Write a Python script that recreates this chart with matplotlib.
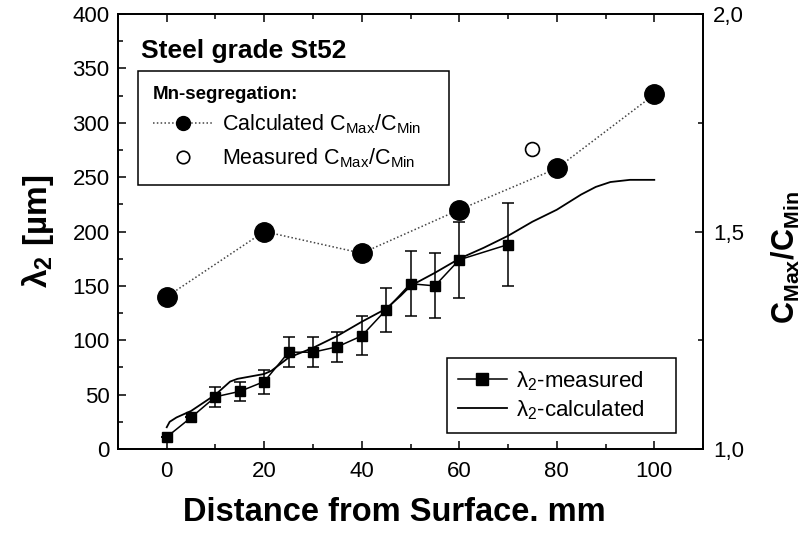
import numpy as np
import matplotlib.pyplot as plt
from matplotlib.lines import Line2D
from matplotlib.ticker import MultipleLocator, FixedLocator

plt.rcParams['font.family'] = ['Liberation Sans', 'DejaVu Sans']
plt.rcParams['mathtext.fontset'] = 'custom'
plt.rcParams['mathtext.rm'] = 'Liberation Sans'
plt.rcParams['mathtext.it'] = 'Liberation Sans:italic'
plt.rcParams['mathtext.bf'] = 'Liberation Sans:bold'

# Measured secondary dendrite arm spacing (um) with error bars
dist_meas = [0, 5, 10, 15, 20, 25, 30, 35, 40, 45, 50, 55, 60, 70]
lam_meas = [11, 29, 48, 53, 62, 89, 89, 94, 104, 128, 152, 150, 174, 188]
lam_err = [0, 0, 9, 9, 11, 14, 14, 14, 18, 20, 30, 30, 35, 38]

# Calculated secondary dendrite arm spacing (um)
dist_calc = [0, 0.6, 2, 5, 10, 13, 14.5, 20, 21.5, 25, 30, 35, 40, 45, 48, 50,
             55, 60, 65, 70, 75, 80, 85, 88, 91, 95, 100]
lam_calc = [20, 25, 29, 35, 50, 62, 64.5, 69, 72, 84, 93, 104, 117, 129, 141, 150,
            162, 175, 185, 196, 209, 220, 234, 241, 245.5, 247.5, 247.5]

# Mn segregation ratio Cmax/Cmin
dist_seg = [0, 20, 40, 60, 80, 100]
seg_calc = [1.35, 1.50, 1.45, 1.55, 1.645, 1.815]
dist_seg_meas = [75]
seg_meas = [1.69]

fig = plt.figure(figsize=(8.12, 5.39), dpi=100)
ax = fig.add_axes([0.1453, 0.167, 0.7205, 0.807])
ax2 = ax.twinx()

ax.errorbar(dist_meas, lam_meas, yerr=lam_err, color='black', lw=1.1,
            marker='s', ms=7, capsize=4, elinewidth=1.1, capthick=1.1)
ax.plot(dist_calc, lam_calc, color='black', lw=1.3)

ax2.plot(dist_seg, seg_calc, color='#444444', ls=(0, (1, 1.5)), lw=1.1,
         marker='o', ms=14, mfc='black', mec='black')
ax2.plot(dist_seg_meas, seg_meas, ls='none', marker='o', ms=10,
         mfc='white', mec='black', mew=1.2)

ax.set_xlim(-10, 110)
ax.set_ylim(0, 400)
ax2.set_ylim(1.0, 2.0)

ax.xaxis.set_major_locator(MultipleLocator(20))
ax.xaxis.set_minor_locator(MultipleLocator(10))
ax.yaxis.set_major_locator(MultipleLocator(50))
ax.yaxis.set_minor_locator(MultipleLocator(25))
ax2.yaxis.set_major_locator(FixedLocator([1.0, 1.5, 2.0]))
ax2.yaxis.set_minor_locator(FixedLocator([1.25, 1.75]))
ax2.set_yticklabels(['1,0', '1,5', '2,0'])

for a in (ax, ax2):
    for s in a.spines.values():
        s.set_linewidth(1.3)
ax.tick_params(which='both', direction='in', top=True, right=False,
               labelsize=16, width=1.1)
ax.tick_params(axis='x', pad=9)
ax.tick_params(axis='y', pad=6)
ax.tick_params(which='major', length=6)
ax.tick_params(which='minor', length=3.5)
ax2.tick_params(which='both', direction='in', labelsize=16, width=1.1, pad=7)
ax2.tick_params(which='major', length=6)
ax2.tick_params(which='minor', length=3.5)

ax.set_xlabel('Distance from Surface. mm', fontsize=23.5, fontweight='bold')
ax.xaxis.set_label_coords(0.472, -0.11, transform=ax.transAxes)
ax.xaxis.label.set_va('top')
ax.set_ylabel(r'$\mathregular{\lambda_2}$ [µm]', fontsize=24, fontweight='bold',
              labelpad=12)
ax2.set_ylabel(r'$\mathbf{C_{Max}/C_{Min}}$', fontsize=22)
ax2.yaxis.set_label_coords(1.142, 0.441, transform=ax2.transAxes)
ax2.yaxis.label.set_va('center')

ax.text(0.04, 0.915, 'Steel grade St52', transform=ax.transAxes,
        fontsize=19, fontweight='bold', va='center', ha='left')

seg_handles = [
    Line2D([], [], color='#444444', ls=(0, (1, 1.5)), lw=1.1, marker='o',
           ms=10, mfc='black', mec='black'),
    Line2D([], [], ls='none', marker='o', ms=9, mfc='white', mec='black', mew=1.2),
]
leg1 = ax2.legend(seg_handles,
                  [r'Calculated C$_{\mathregular{Max}}$/C$_{\mathregular{Min}}$',
                   r'Measured C$_{\mathregular{Max}}$/C$_{\mathregular{Min}}$'],
                  title='Mn-segregation:', alignment='left',
                  title_fontproperties={'weight': 'bold', 'size': 13.5},
                  loc='upper left', bbox_to_anchor=(0.034, 0.616, 0.532, 0.253),
                  mode='expand',
                  fontsize=15.5, frameon=True, fancybox=False, edgecolor='black',
                  framealpha=1, handlelength=2.8, handletextpad=0.4,
                  borderpad=0.7, labelspacing=0.45, borderaxespad=0)
leg1.get_frame().set_linewidth(1.1)
ax2.add_artist(leg1)

lam_handles = [
    Line2D([], [], color='black', lw=1.1, marker='s', ms=8),
    Line2D([], [], color='black', lw=1.3),
]
leg2 = ax2.legend(lam_handles,
                  [r'$\mathregular{\lambda_2}$-measured',
                   r'$\mathregular{\lambda_2}$-calculated'],
                  loc='lower left', bbox_to_anchor=(0.562, 0.037, 0.392, 0.175),
                  mode='expand',
                  fontsize=16, frameon=True, fancybox=False, edgecolor='black',
                  framealpha=1, handlelength=2.2, handletextpad=0.4,
                  borderpad=0.5, labelspacing=0.25, borderaxespad=0)
leg2.get_frame().set_linewidth(1.1)

fig.savefig('out.png', dpi=100)
